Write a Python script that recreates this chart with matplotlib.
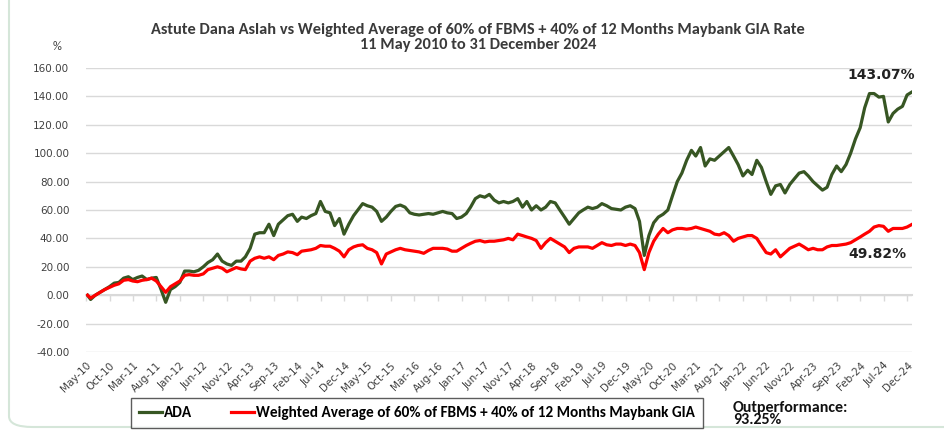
import numpy as np
import pandas as pd
import matplotlib
matplotlib.use("Agg")
import matplotlib.pyplot as plt
from matplotlib.patches import FancyBboxPatch

# Cumulative return (%) - start point 11 May 2010, then month-end values
start_date = "2010-05-11"
month_ends = pd.date_range("2010-05-31", "2024-12-31", freq="ME")

ada = [
    -3, 0, 2, 4, 6, 8.5, 9, 12, 13, 11, 12.5, 13.5, 11, 12, 12.5, 4, -5, 4, 6, 9,
    17, 17, 16.5, 17.5, 20, 23, 25, 29, 24, 22, 21, 24, 24, 27, 33, 43, 44, 44, 50, 42,
    50, 53, 56, 57, 52, 55, 54, 56, 57.5, 66, 59, 58, 49, 54, 43, 50, 56, 60, 64.5, 63,
    62, 59, 52, 55, 59, 62.5, 63.5, 62, 58, 57, 56.5, 57, 57.5, 57, 58, 59, 58, 57.5, 54, 55,
    57.5, 62, 68, 70, 69, 71, 67, 65, 66, 65, 66, 68, 62, 66, 60, 63, 60, 62, 66, 65,
    60, 55, 50, 54, 58, 60, 62, 61, 62, 64.5, 63, 61, 60.5, 60, 62, 63, 61, 52, 28, 42,
    51, 55, 57, 60, 70, 80, 86, 95, 102, 98, 104, 91, 96, 95, 98, 101, 104, 98, 92, 84,
    88, 85, 95, 90, 80, 71, 77, 78, 72, 78, 82, 86, 87, 84, 80, 77, 74, 76, 85, 91,
    87, 92, 100, 110, 118, 132, 142, 142, 139.5, 140, 122, 128, 131, 133, 141, 143.07,
]
benchmark = [
    -2, 0, 2, 4, 5.5, 7, 8, 10.5, 11, 10, 9.5, 10.5, 11, 12, 10, 6, 2, 6, 8, 10,
    14, 14.5, 14, 14, 15, 18, 19, 20, 19, 16.5, 18, 19.5, 18.5, 18, 24, 26, 27, 26, 27, 25,
    28, 29, 30.5, 30, 28.5, 31, 31.5, 32, 33, 35, 34.5, 34.5, 33, 31, 27, 32, 34, 35, 35.5, 33,
    32, 30, 22, 29, 30.5, 32, 33, 32, 31.5, 31, 30.5, 29.5, 31.5, 33, 33, 33, 32.5, 31, 31, 33,
    35, 36.5, 38, 38.5, 37.5, 38, 38, 38.5, 39, 40, 39, 43, 42, 41, 40, 38.5, 33, 37, 40, 38,
    36, 34, 30, 33, 34, 34, 34, 33, 35, 37, 35.5, 35, 36, 36, 35, 36, 35, 30, 18, 30,
    38, 43, 47, 44, 46, 47, 47, 46.5, 47, 48, 47, 46, 45, 43, 42.5, 44, 42, 38, 40, 41,
    42, 42, 40, 35, 30, 29, 32, 27, 30, 33, 34.5, 36, 34, 32, 33, 32, 32, 34, 35, 35,
    35.5, 36, 37, 39, 41, 43, 45, 48, 49, 48.5, 45, 47, 47, 47, 48, 49.82,
]

dates = [pd.Timestamp(start_date)] + list(month_ends)
ada_series = [0] + ada
bench_series = [0] + benchmark

y_ticks = [-40, -20, 0, 20, 40, 60, 80, 100, 120, 140, 160]
x_tick_dates = pd.date_range("2010-05-01", "2024-12-01", freq="5MS")

narrow = ["Carlito", "DejaVu Sans"]

fig = plt.figure(figsize=(9.44, 4.33), dpi=100)
fig.patch.set_facecolor("white")

# rounded frame around the chart
frame = FancyBboxPatch((9 / 944, 6 / 433), 1.2, 1.2, boxstyle="round,pad=0,rounding_size=0.025",
                       transform=fig.transFigure, facecolor="none", edgecolor="#d5e6d9",
                       linewidth=1.5)
fig.patches.append(frame)

ax = fig.add_axes([86 / 944, 1 - 352 / 433, 826 / 944, 284 / 433])
ax.plot(dates, ada_series, color="#375623", linewidth=2.3, label="ADA")
ax.plot(dates, bench_series, color="#ff0000", linewidth=2.3,
        label="Weighted Average of 60% of FBMS + 40% of 12 Months Maybank GIA")

ax.set_ylim(-40, 160)
ax.set_xlim(pd.Timestamp("2010-05-01"), pd.Timestamp("2025-01-01"))
ax.set_yticks(y_ticks)
ax.set_yticklabels([f"{v:.2f}" for v in y_ticks], fontsize=7.5, color="#404040")
ax.yaxis.grid(True, color="#d9d9d9", linewidth=1)
ax.set_axisbelow(True)
for s in ax.spines.values():
    s.set_visible(False)
ax.tick_params(axis="y", length=0, pad=12)

ax.set_xticks(x_tick_dates)
ax.set_xticklabels([d.strftime("%b-%y") for d in x_tick_dates], rotation=45, ha="right",
                   rotation_mode="anchor", fontsize=7.5, color="#404040")
ax.tick_params(axis="x", length=0, pad=6)

# axis line at zero with tick marks
zero_ax = ax.secondary_xaxis(40 / 200)
zero_ax.set_xticks(x_tick_dates)
zero_ax.set_xticklabels([])
zero_ax.spines["bottom"].set_color("#d9d9d9")
zero_ax.spines["bottom"].set_linewidth(1.5)
zero_ax.tick_params(axis="x", length=4, color="#d9d9d9", width=1)

title_kw = dict(ha="center", va="center", fontsize=11.8, fontweight="bold", color="#3a3a3a",
                family=narrow)
fig.text(0.5065, 1 - 30 / 433,
         "Astute Dana Aslah vs Weighted Average of 60% of FBMS + 40% of 12 Months Maybank GIA Rate",
         **title_kw)
fig.text(0.5065, 1 - 45 / 433, "11 May 2010 to 31 December 2024", **title_kw)
fig.text(57 / 944, 1 - 46 / 433, "%", ha="center", va="center", fontsize=9,
         color="#404040", family=narrow)

ax.annotate(f"{ada[-1]:.2f}%", xy=(dates[-1], ada[-1]), xytext=(-22, 12),
            textcoords="offset points", ha="center", va="center", fontsize=10,
            fontweight="bold", color="#222222")
ax.annotate(f"{benchmark[-1]:.2f}%", xy=(dates[-1], benchmark[-1]), xytext=(-25, -21),
            textcoords="offset points", ha="center", va="center", fontsize=10,
            fontweight="bold", color="#222222")

leg = fig.legend(loc="center", bbox_to_anchor=(417 / 944, 1 - 413 / 433), ncol=2,
                 frameon=True, fancybox=False, handlelength=1.5, handletextpad=0.1,
                 columnspacing=2.6, borderpad=0.55,
                 prop={"family": narrow, "weight": "bold", "size": 11})
leg.get_frame().set_edgecolor("#333333")
leg.get_frame().set_linewidth(1)

fig.text(733 / 944, 1 - 414 / 433, "Outperformance:\n93.25%", ha="left", va="center",
         fontsize=11.5, fontweight="bold", color="#111111", family=narrow, linespacing=0.85)

fig.savefig("out.png", dpi=100)
